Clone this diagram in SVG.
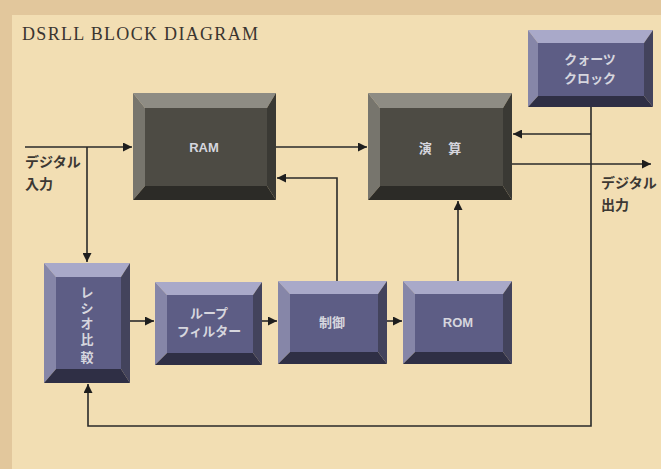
<svg xmlns="http://www.w3.org/2000/svg" width="661" height="469" viewBox="0 0 661 469">
<style>
.ln{fill:none;stroke:#2a2a2a;stroke-width:1.6}
.lbl{font-family:"Noto Sans CJK JP","Liberation Sans",sans-serif;font-size:14px;fill:#3c3833;font-weight:bold}
.bt{font-family:"Liberation Sans","Noto Sans CJK JP",sans-serif;font-size:13px;fill:#d6d6de;text-anchor:middle;font-weight:bold}
.g .t{fill:#8e8c84}.g .l{fill:#77756d}.g .r{fill:#3a3934}.g .b{fill:#2c2b27}.g .f{fill:#4d4b44}
.p .t{fill:#a9a9c9}.p .l{fill:#8686a8}.p .r{fill:#43435c}.p .b{fill:#2f2f45}.p .f{fill:#5d5d85}
</style>
<defs>
<marker id="ah" viewBox="0 0 10 10" refX="10" refY="5" markerWidth="9" markerHeight="9" markerUnits="userSpaceOnUse" orient="auto">
<path d="M0,0 L10,5 L0,10 z" fill="#1e1e1e"/>
</marker>
</defs>
<rect width="661" height="469" fill="#e2c79c"/>
<rect x="12" y="15" width="649" height="454" fill="#f2deb3"/>
<text x="22" y="40" font-family="Liberation Serif,serif" font-size="18" fill="#3a3530" textLength="236">DSRLL BLOCK DIAGRAM</text>

<g id="connectors">
<path class="ln" d="M25,147 H132" marker-end="url(#ah)"/>
<path class="ln" d="M87,147 V262" marker-end="url(#ah)"/>
<path class="ln" d="M276,147 H367" marker-end="url(#ah)"/>
<path class="ln" d="M337,281 V178 H277" marker-end="url(#ah)"/>
<path class="ln" d="M458,281 V201" marker-end="url(#ah)"/>
<path class="ln" d="M130,321 H154" marker-end="url(#ah)"/>
<path class="ln" d="M262,321 H277" marker-end="url(#ah)"/>
<path class="ln" d="M387,321 H402" marker-end="url(#ah)"/>
<path class="ln" d="M591,107 V426 H88 V384" marker-end="url(#ah)"/>
<path class="ln" d="M591,134 H513" marker-end="url(#ah)"/>
<path class="ln" d="M512,164 H651" marker-end="url(#ah)"/>
</g>

<g id="label-in">
<text class="lbl" x="25" y="167">デジタル</text>
<text class="lbl" x="25" y="189">入力</text>
</g>
<g id="label-out">
<text class="lbl" x="601" y="188">デジタル</text>
<text class="lbl" x="601" y="210">出力</text>
</g>

<g id="ram" class="g">
<polygon class="t" points="133,93 276,93 267,108 145,108"/>
<polygon class="l" points="133,93 145,108 145,186 133,200"/>
<polygon class="r" points="276,93 276,200 267,186 267,108"/>
<polygon class="b" points="133,200 145,186 267,186 276,200"/>
<rect class="f" x="145" y="108" width="122" height="78"/>
<text class="bt" x="204" y="152" font-size="11">RAM</text>
</g>

<g id="enzan" class="g">
<polygon class="t" points="368,93 512,93 503,108 380,108"/>
<polygon class="l" points="368,93 380,108 380,186 368,200"/>
<polygon class="r" points="512,93 512,200 503,186 503,108"/>
<polygon class="b" points="368,200 380,186 503,186 512,200"/>
<rect class="f" x="380" y="108" width="123" height="78"/>
<text class="bt" x="440" y="153" font-family="Noto Sans CJK JP,sans-serif">演　 算</text>
</g>

<g id="clock" class="p">
<polygon class="t" points="528,30 653,30 644,43 538,43"/>
<polygon class="l" points="528,30 538,43 538,96 528,107"/>
<polygon class="r" points="653,30 653,107 644,96 644,43"/>
<polygon class="b" points="528,107 538,96 644,96 653,107"/>
<rect class="f" x="538" y="43" width="106" height="53"/>
<text class="bt" x="590" y="64" font-family="Noto Sans CJK JP,sans-serif">クォーツ</text>
<text class="bt" x="590" y="83" font-family="Noto Sans CJK JP,sans-serif">クロック</text>
</g>

<g id="ratio" class="p">
<polygon class="t" points="44,263 130,263 121,277 56,277"/>
<polygon class="l" points="44,263 56,277 56,369 44,383"/>
<polygon class="r" points="130,263 130,383 121,369 121,277"/>
<polygon class="b" points="44,383 56,369 121,369 130,383"/>
<rect class="f" x="56" y="277" width="65" height="92"/>
<g class="bt" font-family="Noto Sans CJK JP,sans-serif" font-size="14">
<text x="87" y="297" class="bt">レ</text>
<text x="87" y="313" class="bt">シ</text>
<text x="87" y="328" class="bt">オ</text>
<text x="87" y="344" class="bt">比</text>
<text x="87" y="362" class="bt">較</text>
</g>
</g>

<g id="loop" class="p">
<polygon class="t" points="155,282 262,282 253,295 167,295"/>
<polygon class="l" points="155,282 167,295 167,353 155,365"/>
<polygon class="r" points="262,282 262,365 253,353 253,295"/>
<polygon class="b" points="155,365 167,353 253,353 262,365"/>
<rect class="f" x="167" y="295" width="86" height="58"/>
<text class="bt" x="209" y="318" font-family="Noto Sans CJK JP,sans-serif">ループ</text>
<text class="bt" x="209" y="336" font-family="Noto Sans CJK JP,sans-serif">フィルター</text>
</g>

<g id="seigyo" class="p">
<polygon class="t" points="278,281 387,281 378,294 290,294"/>
<polygon class="l" points="278,281 290,294 290,352 278,364"/>
<polygon class="r" points="387,281 387,364 378,352 378,294"/>
<polygon class="b" points="278,364 290,352 378,352 387,364"/>
<rect class="f" x="290" y="294" width="88" height="58"/>
<text class="bt" x="332" y="327" font-family="Noto Sans CJK JP,sans-serif">制御</text>
</g>

<g id="rom" class="p">
<polygon class="t" points="403,281 512,281 503,294 415,294"/>
<polygon class="l" points="403,281 415,294 415,352 403,364"/>
<polygon class="r" points="512,281 512,364 503,352 503,294"/>
<polygon class="b" points="403,364 415,352 503,352 512,364"/>
<rect class="f" x="415" y="294" width="88" height="58"/>
<text class="bt" x="458" y="327" font-size="12">ROM</text>
</g>
</svg>
